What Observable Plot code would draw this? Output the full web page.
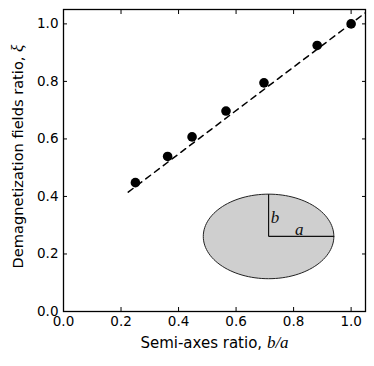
<!DOCTYPE html>
<html>
<head>
<meta charset="utf-8">
<script src="https://cdn.jsdelivr.net/npm/d3@7"></script>
<script src="https://cdn.jsdelivr.net/npm/@observablehq/plot@0.6"></script>
<style>
  html, body { margin: 0; padding: 0; background: #fff; }
  svg { font-family: "DejaVu Sans", sans-serif; }
</style>
</head>
<body>
<div id="chart"></div>
<script>
// Measured points
const bRatio = [0.25, 0.362, 0.447, 0.565, 0.697, 0.882, 1.0];
const xi     = [0.448, 0.539, 0.607, 0.697, 0.795, 0.925, 1.0];
// Dashed fit line endpoints
const fitX = [0.225, 1.05];
const fitY = [0.415, 1.039];
// Tick values
const ticks = [0.0, 0.2, 0.4, 0.6, 0.8, 1.0];
// Inset ellipse diagram (data units): centre and semi-axes
const ellipseCenter = [0.713, 0.261];
const ellipseSemi = [0.227, 0.147];
const semiLabels = ["b", "a"];
const semiLabelX = [0.735, 0.82];
const semiLabelY = [0.325, 0.285];

const xLabel = "Semi-axes ratio, ";
const xLabelMath = "b/a";
const yLabel = "Demagnetization fields ratio, ";
const yLabelMath = "ξ";

const points = bRatio.map((b, i) => ({b, xi: xi[i]}));
const fit = fitX.map((x, i) => ({x, y: fitY[i]}));
const outline = d3.range(0, 361, 3).map(t => ({
  x: ellipseCenter[0] + ellipseSemi[0] * Math.cos(t * Math.PI / 180),
  y: ellipseCenter[1] + ellipseSemi[1] * Math.sin(t * Math.PI / 180)
}));
const radii = [
  {x1: ellipseCenter[0], y1: ellipseCenter[1], x2: ellipseCenter[0], y2: ellipseCenter[1] + ellipseSemi[1]},
  {x1: ellipseCenter[0], y1: ellipseCenter[1], x2: ellipseCenter[0] + ellipseSemi[0], y2: ellipseCenter[1]}
];
const semiText = semiLabels.map((t, i) => ({t, x: semiLabelX[i], y: semiLabelY[i]}));

const fmt = d => d.toFixed(1);
const blank = () => "";

const chart = Plot.plot({
  width: 374,
  height: 366,
  marginLeft: 63,
  marginRight: 9,
  marginTop: 9,
  marginBottom: 55,
  style: {fontFamily: "DejaVu Sans, sans-serif", fontSize: "13px", background: "white"},
  x: {domain: [0, 1.05]},
  y: {domain: [0, 1.05]},
  marks: [
    Plot.line(outline, {x: "x", y: "y", fill: "#cfcfcf", stroke: "#222", strokeWidth: 1}),
    Plot.link(radii, {x1: "x1", y1: "y1", x2: "x2", y2: "y2", stroke: "#111", strokeWidth: 1.2}),
    Plot.text(semiText, {x: "x", y: "y", text: "t", fontFamily: "Liberation Serif, serif", fontStyle: "italic", fontSize: 17, fill: "#111"}),
    Plot.line(fit, {x: "x", y: "y", stroke: "black", strokeWidth: 1.5, strokeDasharray: "6,5", clip: true}),
    Plot.dot(points, {x: "b", y: "xi", r: 4.8, fill: "black", stroke: "none"}),
    Plot.axisX({anchor: "bottom", ticks, tickFormat: fmt, tickSize: -4, tickPadding: 9, label: null, fontSize: 13.5}),
    Plot.axisX({anchor: "top", ticks, tickFormat: blank, tickSize: -4, label: null}),
    Plot.axisY({anchor: "left", ticks, tickFormat: fmt, tickSize: -4, tickPadding: 9, label: null, fontSize: 13.5}),
    Plot.axisY({anchor: "right", ticks, tickFormat: blank, tickSize: -4, label: null}),
    Plot.frame({stroke: "black", strokeWidth: 1.3}),
    Plot.text([xLabel], {frameAnchor: "bottom", dy: 36, text: d => d, fontSize: 15, fill: "black"}),
    Plot.text([yLabel], {frameAnchor: "left", dx: -45, dy: -4, rotate: -90, textAnchor: "middle", text: d => d, fontSize: 14.6, fill: "black"})
  ]
});

// Add mathematical (italic) parts to axis titles as real text spans
d3.select(chart).selectAll("text").each(function() {
  const el = d3.select(this);
  const s = this.textContent;
  if (s === xLabel || s === yLabel) {
    const math = s === xLabel ? xLabelMath : yLabelMath;
    el.text(null);
    el.append("tspan").text(s);
    el.append("tspan").attr("font-family", "Liberation Serif, serif").attr("font-style", "italic").attr("font-size", 17).text(math);
  }
});

document.getElementById("chart").appendChild(chart);
</script>
</body>
</html>
